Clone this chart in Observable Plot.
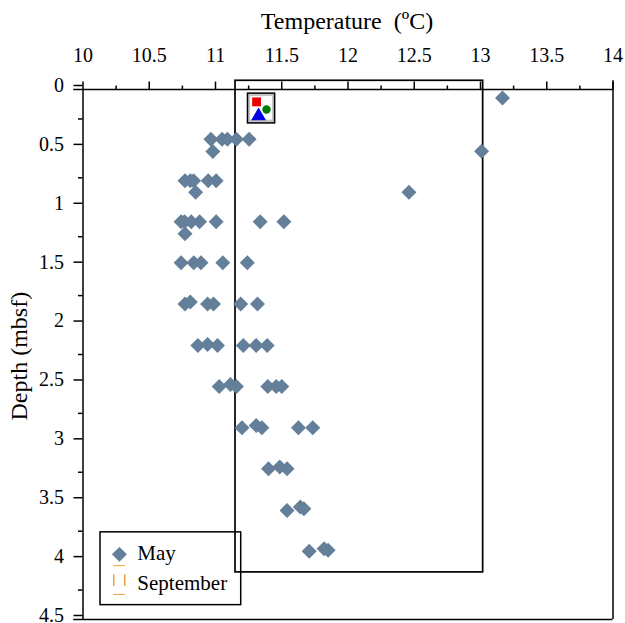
<!DOCTYPE html>
<html>
<head>
<meta charset="utf-8">
<script src="https://cdn.jsdelivr.net/npm/d3@7"></script>
<script src="https://cdn.jsdelivr.net/npm/@observablehq/plot@0.6"></script>
<style>
html,body{margin:0;padding:0;background:#fff}
svg{display:block}
</style>
</head>
<body>
<div id="chart"></div>
<script>
const temperature = [13.166,13.008,12.46,
  10.965,11.05,11.09,11.158,11.254,10.98,
  10.77,10.81,10.835,10.945,11.005,10.85,
  10.74,10.766,10.817,10.88,11.005,11.337,11.516,10.77,
  10.74,10.836,10.89,11.055,11.24,
  10.77,10.81,10.94,10.985,11.19,11.317,
  10.867,10.94,11.015,11.21,11.307,11.39,
  11.028,11.113,11.158,11.395,11.458,11.5,
  11.2,11.307,11.35,11.626,11.734,
  11.4,11.485,11.54,
  11.54,11.64,11.667,
  11.707,11.82,11.85];
const depth = [0.072,0.524,0.872,
  0.422,0.422,0.422,0.422,0.422,0.526,
  0.775,0.775,0.775,0.775,0.775,0.872,
  1.123,1.123,1.123,1.123,1.123,1.123,1.123,1.225,
  1.471,1.471,1.471,1.471,1.471,
  1.822,1.805,1.822,1.822,1.822,1.822,
  2.173,2.165,2.173,2.173,2.173,2.173,
  2.521,2.505,2.521,2.521,2.521,2.521,
  2.872,2.853,2.872,2.872,2.872,
  3.22,3.206,3.22,
  3.574,3.545,3.56,
  3.92,3.9,3.913];
const points = temperature.map((t,i)=>({t,d:depth[i]}));

const xMajor = [10,10.5,11,11.5,12,12.5,13,13.5,14];
const xMinor = [10.25,10.75,11.25,11.75,12.25,12.75,13.25,13.75];
const yMajor = [0,0.5,1,1.5,2,2.5,3,3.5,4,4.5];
const yMinor = [0.25,0.75,1.25,1.75,2.25,2.75,3.25,3.75,4.25];

const xTitle = "Temperature\u00a0\u00a0(ºC)";
const yTitle = "Depth (mbsf)";
const blue = "#647f99";
const orange = "#e8a33d";
const font = "'Liberation Serif','Times New Roman',serif";

const outerBox = [{x1:11.151,x2:13.02,y1:-0.074,y2:4.10}];
const legendBox = [{x1:10.132,x2:11.194,y1:3.76,y2:4.378}];
const legendText = [{x:10.41,y:3.94,label:"May"},{x:10.41,y:4.19,label:"September"}];
const legendDiamond = [{x:10.275,y:3.947}];
const legendDash = [
  {x1:10.232,x2:10.32,y:4.043},
  {x1:10.232,x2:10.32,y:4.287}];
const legendBars = [
  {x:10.232,y1:4.12,y2:4.22},
  {x:10.315,y1:4.12,y2:4.22}];
const iconBox = [{x1:11.245,x2:11.45,y1:0.035,y2:0.288}];
const iconInner = [{x1:11.265,x2:11.43,y1:0.06,y2:0.26}];
const iconGlyphs = [
  {x:11.31,y:0.105,s:"square",c:"#ee0000",r:5},
  {x:11.385,y:0.17,s:"circle",c:"#007a00",r:4.2},
  {x:11.325,y:0.225,s:"triangle",c:"#0000e0",r:5.5}];

const plot = Plot.plot({
  width:625, height:623,
  marginTop:89, marginBottom:4, marginLeft:82.5, marginRight:12.5,
  style:{fontFamily:font, background:"#fff", color:"#000", overflow:"visible"},
  x:{domain:[10,14], axis:null},
  y:{domain:[4.5,0], axis:null},
  r:{type:"identity"},
  marks:[
    Plot.axisX(xMajor,{anchor:"top",tickSize:8.5,tickPadding:19,fontSize:20,tickFormat:d=>String(d),label:null,strokeWidth:1.5,stroke:"#000"}),
    Plot.axisX(xMinor,{anchor:"top",tickSize:4.5,tickFormat:()=>"",label:null,strokeWidth:1.5,stroke:"#000"}),
    Plot.axisY(yMajor,{anchor:"left",tickSize:9,tickPadding:10,dy:-4,fontSize:20,tickFormat:d=>String(d),label:null,strokeWidth:1.5,stroke:"#000"}),
    Plot.axisY(yMinor,{anchor:"left",tickSize:4.5,tickFormat:()=>"",label:null,strokeWidth:1.5,stroke:"#000"}),
    Plot.ruleY([0,4.5],{x1:9.93,x2:14,stroke:"#000",strokeWidth:1.5}),
    Plot.ruleX([10],{y1:0,y2:4.5,stroke:"#000",strokeWidth:1.5}),
    Plot.ruleX([14],{y1:-0.074,y2:4.5,stroke:"#000",strokeWidth:1.5}),
    Plot.rect(outerBox,{x1:"x1",x2:"x2",y1:"y1",y2:"y2",stroke:"#000",strokeWidth:1.7,fill:"none"}),
    Plot.dot(points,{x:"t",y:"d",symbol:"diamond2",r:6.75,fill:blue,stroke:"none"}),
    Plot.rect(iconBox,{x1:"x1",x2:"x2",y1:"y1",y2:"y2",fill:"#c4c4c4",stroke:"#000",strokeWidth:1.5}),
    Plot.rect(iconInner,{x1:"x1",x2:"x2",y1:"y1",y2:"y2",fill:"#fff"}),
    Plot.dot(iconGlyphs,{x:"x",y:"y",symbol:"s",fill:"c",r:"r",stroke:"none"}),
    Plot.rect(legendBox,{x1:"x1",x2:"x2",y1:"y1",y2:"y2",fill:"none",stroke:"#000",strokeWidth:1.5}),
    Plot.dot(legendDiamond,{x:"x",y:"y",symbol:"diamond2",r:6.75,fill:blue}),
    Plot.ruleY(legendDash,{x1:"x1",x2:"x2",y:"y",stroke:orange,strokeWidth:1}),
    Plot.ruleX(legendBars,{x:"x",y1:"y1",y2:"y2",stroke:orange,strokeWidth:1.5}),
    Plot.text(legendText,{x:"x",y:"y",text:"label",textAnchor:"start",fontSize:21,fill:"#000"}),
    Plot.text([xTitle],{frameAnchor:"top",dy:-78,dx:-1,fontSize:24,fill:"#000"}),
    Plot.text([yTitle],{frameAnchor:"left",rotate:-90,dx:-64,dy:66,fontSize:24,fill:"#000"})
  ]
});
document.getElementById("chart").appendChild(plot);
</script>
</body>
</html>
